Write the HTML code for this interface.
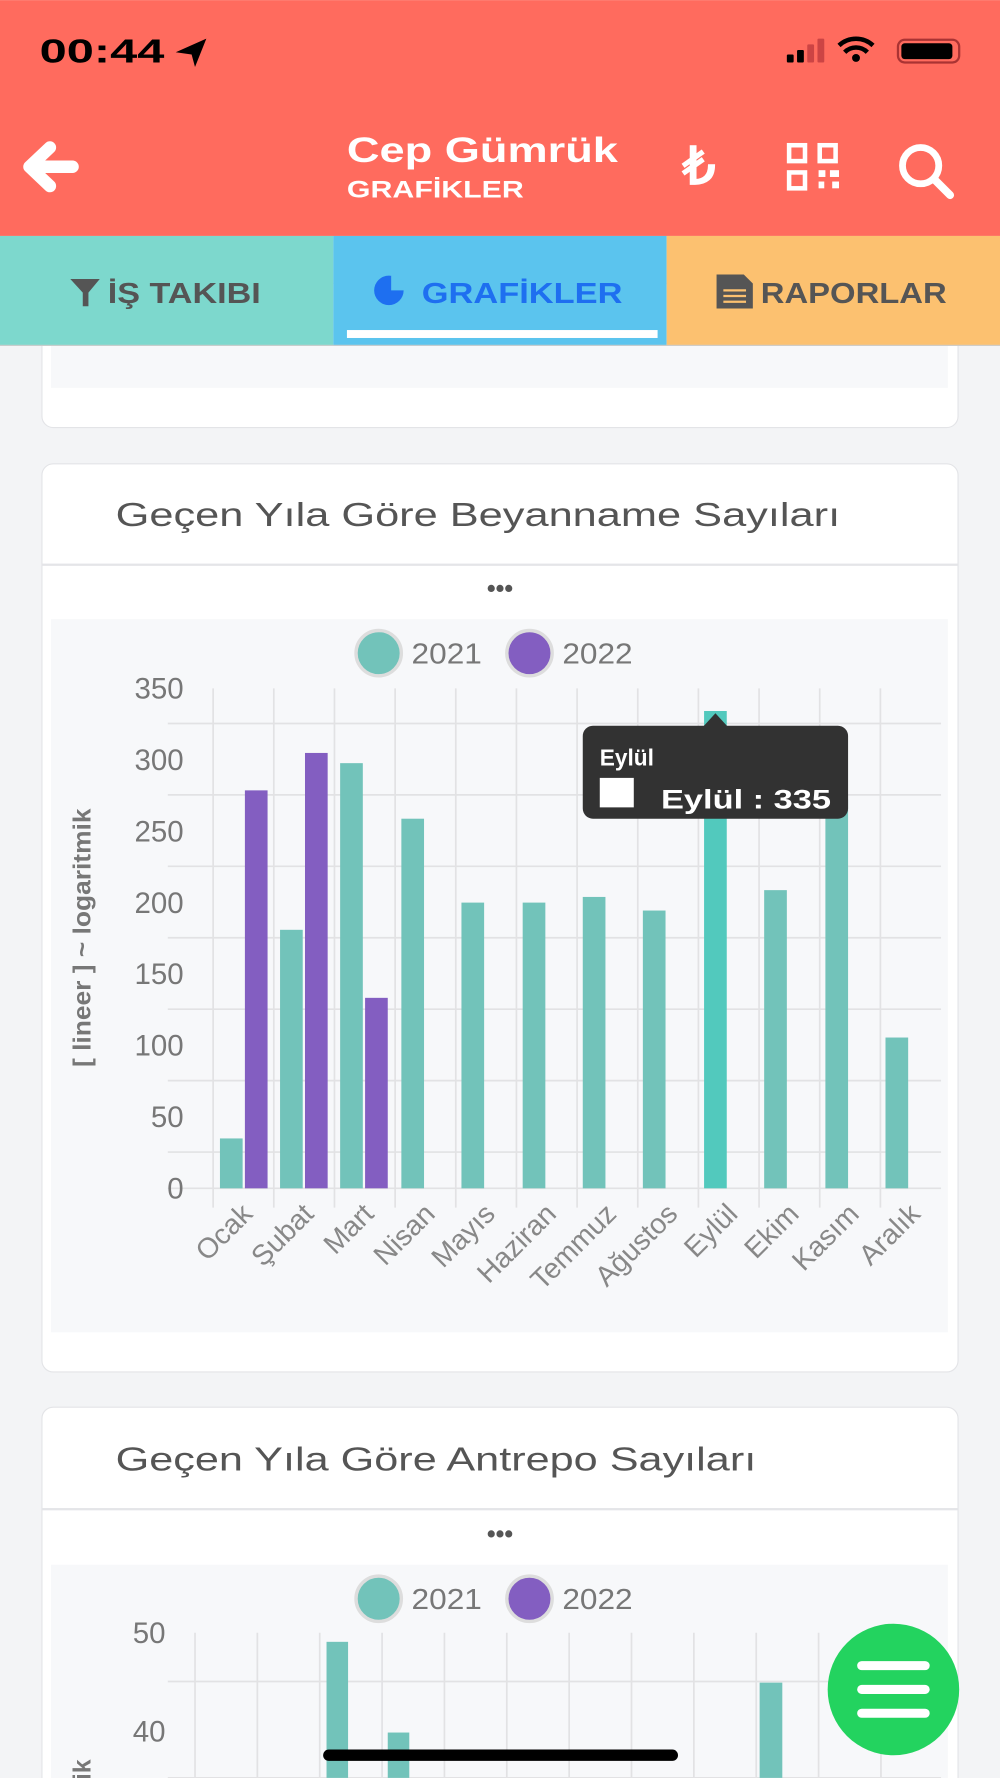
<!DOCTYPE html>
<html><head><meta charset="utf-8"><style>
html,body{margin:0;padding:0;background:#f3f4f6;}
svg{display:block;}
text{font-family:"Liberation Sans",sans-serif;}
</style></head><body>
<svg width="1000" height="1778" viewBox="0 0 882 1568" xmlns="http://www.w3.org/2000/svg">
<rect width="882" height="1568" fill="#f3f4f6"/>
<!-- card1 (under tabs) -->
<rect x="37" y="250" width="808" height="127" rx="10" fill="#fff" stroke="#e3e4e7"/>
<rect x="45" y="300" width="791" height="42" fill="#f7f8fa"/>
<!-- header -->
<rect width="882" height="208" fill="#ff6b5e"/>
<text x="35" y="55" font-size="29" font-weight="bold" fill="#000" textLength="110" lengthAdjust="spacingAndGlyphs">00:44</text>
<path d="M155 46 L182 34 L172 59 L169 48 Z" fill="#000"/>
<rect x="694" y="48" width="6" height="7" rx="1" fill="#000"/><rect x="703" y="44" width="6" height="11" rx="1" fill="#000"/>
<rect x="712" y="39" width="6" height="16" rx="1" fill="#c44"/><rect x="721" y="34" width="6" height="21" rx="1" fill="#c44"/>
<path d="M745 46 a14 14 0 0 1 20 0 M740 40 a22 22 0 0 1 30 0" stroke="#000" stroke-width="4" fill="none"/><circle cx="755" cy="51" r="3.5" fill="#000"/>
<rect x="792" y="35" width="54" height="20" rx="6" fill="none" stroke="#a33" stroke-width="2"/><rect x="795" y="38" width="45" height="14" rx="3" fill="#000"/>
<path d="M64 147 L28 147 M44 130 L26 147 L44 164" stroke="#fff" stroke-width="11" stroke-linecap="round" stroke-linejoin="round" fill="none"/>
<text x="306" y="143" font-size="31" font-weight="bold" fill="#fff" textLength="239" lengthAdjust="spacingAndGlyphs">Cep Gümrük</text>
<text x="306" y="174" font-size="21" font-weight="bold" fill="#fff" textLength="156" lengthAdjust="spacingAndGlyphs">GRAFİKLER</text>
<text x="602" y="162" font-size="46" font-weight="bold" fill="#fff">₺</text>
<g fill="none" stroke="#fff" stroke-width="4"><rect x="696" y="128" width="14" height="14"/><rect x="723" y="128" width="14" height="14"/><rect x="696" y="152" width="14" height="14"/></g>
<g fill="#fff"><rect x="722" y="150" width="6" height="6"/><rect x="732" y="150" width="8" height="6"/><rect x="722" y="160" width="5" height="6"/><rect x="734" y="160" width="6" height="6"/></g>
<circle cx="812" cy="146" r="16" fill="none" stroke="#fff" stroke-width="6"/><path d="M824 158 L838 172" stroke="#fff" stroke-width="7" stroke-linecap="round"/>
<!-- tabs -->
<rect x="0" y="208" width="294" height="97" fill="#7dd8cd"/>
<rect x="294" y="208" width="294" height="97" fill="#5bc4ee"/>
<rect x="588" y="208" width="294" height="97" fill="#fcc170"/>
<path d="M62 246 L88 246 L78 258 L78 270 L73 270 L73 258 Z" fill="#555"/>
<text x="95" y="267" font-size="25" font-weight="bold" fill="#555" textLength="135" lengthAdjust="spacingAndGlyphs">İŞ TAKIBI</text>
<circle cx="343" cy="256" r="13" fill="#1e6ff0"/><path d="M345 243 L345 256 L358 256 A13 13 0 0 0 345 243 Z" fill="#5bc4ee"/>
<text x="372" y="267" font-size="25" font-weight="bold" fill="#1e6ff0" textLength="177" lengthAdjust="spacingAndGlyphs">GRAFİKLER</text>
<rect x="306" y="291" width="274" height="7" fill="#fff"/>
<path d="M632 242 L656 242 L664 250 L664 272 L632 272 Z" fill="#555"/><g stroke="#fcc170" stroke-width="2"><path d="M638 256 H658 M638 261 H658 M638 266 H658"/></g>
<text x="671" y="267" font-size="25" font-weight="bold" fill="#555" textLength="164" lengthAdjust="spacingAndGlyphs">RAPORLAR</text>
<rect x="0" y="304" width="882" height="1" fill="#ccc"/>
<!-- card2 -->
<rect x="37" y="409" width="808" height="801" rx="10" fill="#fff" stroke="#e3e4e7"/>
<text x="102" y="464" font-size="29" fill="#555" textLength="639" lengthAdjust="spacingAndGlyphs">Geçen Yıla Göre Beyanname Sayıları</text>
<rect x="37" y="497" width="808" height="2" fill="#e4e5e8"/>
<text x="441" y="526" font-size="22" font-weight="bold" fill="#555" text-anchor="middle">•••</text>
<rect x="45" y="546" width="791" height="629" fill="#f7f8fa"/>
<circle cx="334" cy="576" r="20" fill="#72c3ba" stroke="#ddd" stroke-width="3"/>
<text x="363" y="585" font-size="25" fill="#777" textLength="62" lengthAdjust="spacingAndGlyphs">2021</text>
<circle cx="467" cy="576" r="20" fill="#835ec1" stroke="#ddd" stroke-width="3"/>
<text x="496" y="585" font-size="25" fill="#777" textLength="62" lengthAdjust="spacingAndGlyphs">2022</text>
<g stroke="#e2e2e4" stroke-width="1.5">
<path d="M148 638 H830 M148 701 H830 M148 764 H830 M148 827 H830 M148 890 H830 M148 953 H830 M148 1016 H830 M148 1048 H830"/>
<path d="M188 607 V1065 M241.5 607 V1065 M295 607 V1065 M348.5 607 V1065 M402 607 V1065 M455.5 607 V1065 M509 607 V1065 M562.5 607 V1065 M616 607 V1065 M669.5 607 V1065 M723 607 V1065 M776.5 607 V1065"/>
</g>
<g font-size="26" fill="#777" text-anchor="end">
<text x="162" y="616">350</text><text x="162" y="679">300</text><text x="162" y="742">250</text><text x="162" y="805">200</text><text x="162" y="868">150</text><text x="162" y="931">100</text><text x="162" y="994">50</text><text x="162" y="1057">0</text>
</g>
<text transform="translate(80,827) rotate(-90)" font-size="22" font-weight="bold" fill="#777" text-anchor="middle" textLength="228" lengthAdjust="spacingAndGlyphs">[ lineer ] ~ logaritmik</text>
<g fill="#72c3ba">
<rect x="194" y="1004" width="20" height="44"/><rect x="247" y="820" width="20" height="228"/><rect x="300" y="673" width="20" height="375"/>
<rect x="354" y="722" width="20" height="326"/><rect x="407" y="796" width="20" height="252"/><rect x="461" y="796" width="20" height="252"/>
<rect x="514" y="791" width="20" height="257"/><rect x="567" y="803" width="20" height="245"/><rect x="674" y="785" width="20" height="263"/>
<rect x="728" y="705" width="20" height="343"/><rect x="781" y="915" width="20" height="133"/>
</g>
<rect x="621" y="627" width="20" height="421" fill="#52c9bd"/>
<g fill="#835ec1"><rect x="216" y="697" width="20" height="351"/><rect x="269" y="664" width="20" height="384"/><rect x="322" y="880" width="20" height="168"/></g>
<g font-size="25" fill="#888" text-anchor="end">
<text transform="translate(224,1072) rotate(-45)">Ocak</text>
<text transform="translate(278,1072) rotate(-45)">Şubat</text>
<text transform="translate(331,1072) rotate(-45)">Mart</text>
<text transform="translate(385,1072) rotate(-45)">Nisan</text>
<text transform="translate(438,1072) rotate(-45)">Mayıs</text>
<text transform="translate(492,1072) rotate(-45)">Haziran</text>
<text transform="translate(545,1072) rotate(-45)">Temmuz</text>
<text transform="translate(599,1072) rotate(-45)">Ağustos</text>
<text transform="translate(652,1072) rotate(-45)">Eylül</text>
<text transform="translate(706,1072) rotate(-45)">Ekim</text>
<text transform="translate(759,1072) rotate(-45)">Kasım</text>
<text transform="translate(813,1072) rotate(-45)">Aralık</text>
</g>
<!-- tooltip -->
<path d="M620 641 L631 629 L642 641 Z" fill="#323232"/>
<rect x="514" y="640" width="234" height="82" rx="9" fill="#323232"/>
<text x="529" y="675" font-size="20" font-weight="bold" fill="#fff">Eylül</text>
<rect x="529" y="686" width="30" height="26" fill="#fff"/>
<text x="583" y="713" font-size="24" font-weight="bold" fill="#fff" textLength="150" lengthAdjust="spacingAndGlyphs">Eylül : 335</text>
<!-- card3 -->
<rect x="37" y="1241" width="808" height="340" rx="10" fill="#fff" stroke="#e3e4e7"/>
<text x="102" y="1297" font-size="29" fill="#555" textLength="565" lengthAdjust="spacingAndGlyphs">Geçen Yıla Göre Antrepo Sayıları</text>
<rect x="37" y="1330" width="808" height="2" fill="#e4e5e8"/>
<text x="441" y="1360" font-size="22" font-weight="bold" fill="#555" text-anchor="middle">•••</text>
<rect x="45" y="1380" width="791" height="200" fill="#f7f8fa"/>
<circle cx="334" cy="1410" r="20" fill="#72c3ba" stroke="#ddd" stroke-width="3"/>
<text x="363" y="1419" font-size="25" fill="#777" textLength="62" lengthAdjust="spacingAndGlyphs">2021</text>
<circle cx="467" cy="1410" r="20" fill="#835ec1" stroke="#ddd" stroke-width="3"/>
<text x="496" y="1419" font-size="25" fill="#777" textLength="62" lengthAdjust="spacingAndGlyphs">2022</text>
<g stroke="#e2e2e4" stroke-width="1.5">
<path d="M148 1483 H830 M148 1568 H830"/>
<path d="M172 1440 V1568 M227 1440 V1568 M282 1440 V1568 M337 1440 V1568 M392 1440 V1568 M447 1440 V1568 M502 1440 V1568 M557 1440 V1568 M612 1440 V1568 M667 1440 V1568 M722 1440 V1568 M777 1440 V1568"/>
</g>
<text x="146" y="1449" font-size="26" fill="#777" text-anchor="end">50</text>
<text x="146" y="1536" font-size="26" fill="#777" text-anchor="end">40</text>
<text transform="translate(80,1570) rotate(-90)" font-size="22" font-weight="bold" fill="#777">ik</text>
<g fill="#72c3ba"><rect x="288" y="1448" width="19" height="120"/><rect x="342" y="1528" width="19" height="40"/><rect x="670" y="1484" width="20" height="84"/></g>
<!-- FAB -->
<circle cx="788" cy="1490" r="58" fill="#23d35f"/>
<g stroke="#fff" stroke-width="8" stroke-linecap="round"><path d="M760 1469 H816 M760 1490 H816 M760 1511 H816"/></g>
<rect x="285" y="1543" width="313" height="10" rx="5" fill="#000"/>
</svg>
</body></html>
